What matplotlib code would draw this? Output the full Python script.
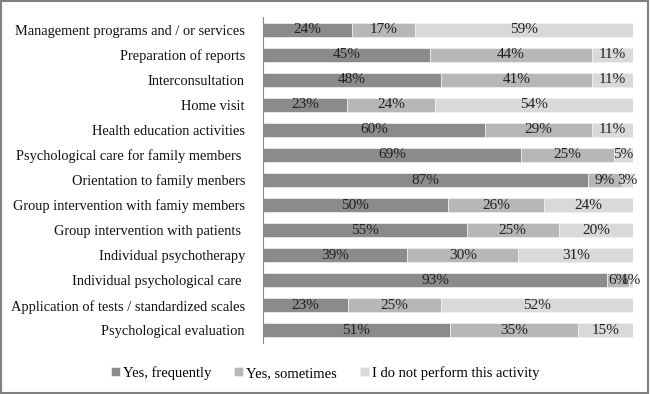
import matplotlib
matplotlib.use("Agg")
import matplotlib.pyplot as plt
import numpy as np

categories = [
    "Management programs and / or services",
    "Preparation of reports",
    "Interconsultation",
    "Home visit",
    "Health education activities",
    "Psychological care for family members ",
    "Orientation to family menbers",
    "Group intervention with famiy members",
    "Group intervention with patients ",
    "Individual psychotherapy",
    "Individual psychological care ",
    "Application of tests / standardized scales",
    "Psychological evaluation",
]
frequently = [24, 45, 48, 23, 60, 69, 87, 50, 55, 39, 93, 23, 51]
sometimes = [17, 44, 41, 24, 29, 25, 9, 26, 25, 30, 6, 25, 35]
not_perform = [59, 11, 11, 54, 11, 5, 3, 24, 20, 31, 1, 52, 15]
series_names = ["Yes, frequently", "Yes, sometimes", "I do not perform this activity"]
colors = ["#8b8b8e", "#b7b7b7", "#d9d9d9"]

plt.rcParams['font.family'] = ['Liberation Serif', 'DejaVu Serif']

fig = plt.figure(figsize=(6.5, 3.94), dpi=100)
ax = fig.add_axes([263/650, 1 - 343/394, 370/650, 326/394])

data = np.array([frequently, sometimes, not_perform], dtype=float)
totals = data.sum(axis=0)
norm = data / totals * 100
n = len(categories)
y = np.arange(n)[::-1]
left = np.zeros(n)
for i in range(3):
    ax.barh(y, norm[i], left=left, height=0.56, color=colors[i],
            edgecolor="#f2f2f2", linewidth=0.5, label=series_names[i])
    for j in range(n):
        ax.text(left[j] + norm[i][j] / 2, y[j], f"{int(data[i][j])}%",
                ha="center", va="center", fontsize=11, color="#222222")
    left += norm[i]

ax.set_xlim(0, 100)
ax.set_ylim(-0.5, n - 0.5)
ax.set_yticks(y)
ax.set_yticklabels(categories, fontsize=10.4, color="#111111")
ax.tick_params(axis="y", length=0, pad=13)
ax.set_xticks([])
for s in ["top", "right", "bottom"]:
    ax.spines[s].set_visible(False)
ax.spines["left"].set_color("#888888")
ax.spines["left"].set_linewidth(0.8)

fig.legend(loc="center", bbox_to_anchor=(0.5, 1 - 373/394), ncol=3,
           frameon=False, fontsize=10.5, handlelength=0.6, handleheight=0.6,
           handletextpad=0.2, columnspacing=1.6)

border = plt.Rectangle((0.002, 0.003), 0.995, 0.994, transform=fig.transFigure,
                       fill=False, edgecolor="#808080", linewidth=1.5)
fig.patches.append(border)

fig.savefig("out.png", dpi=100)
